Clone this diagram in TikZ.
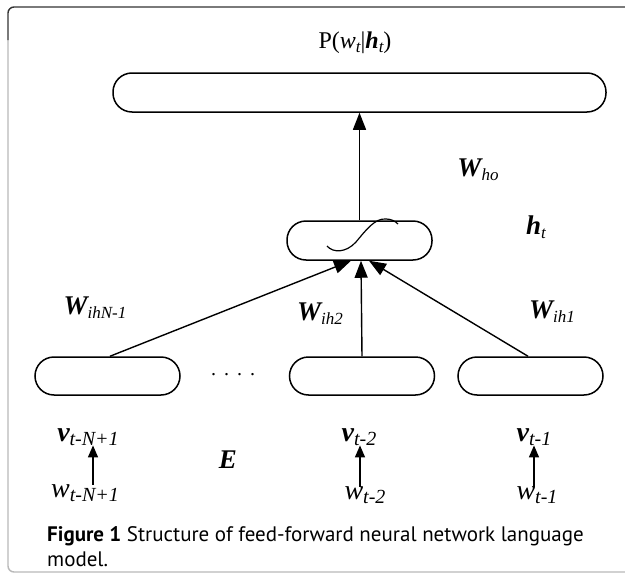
\documentclass[tikz,border=0pt]{standalone}
\usepackage{fontspec}
\setmainfont{Liberation Serif}
\newfontfamily\capfont{PT Sans}
\usetikzlibrary{arrows.meta}

% bold italic symbol with a lowered italic subscript
\newcommand{\symsub}[2]{{\bfseries\itshape #1}\raisebox{-0.14em}{\fontsize{17}{17}\selectfont\itshape #2}}
\newcommand{\plainsub}[2]{{\itshape #1}\raisebox{-0.14em}{\fontsize{17}{17}\selectfont\itshape #2}}
% larger variants for the input rows
\newcommand{\bigsymsub}[2]{{\bfseries\itshape #1}\raisebox{-0.12em}{\fontsize{20}{20}\selectfont\itshape #2}}
\newcommand{\bigplainsub}[2]{{\itshape #1}\raisebox{-0.12em}{\fontsize{20}{20}\selectfont\itshape #2}}

\tikzset{
  layer/.style={draw, line width=1.5pt, rounded corners=19pt, minimum height=39pt,
    minimum width=145pt, inner sep=0pt},
  lbl/.style={inner sep=0pt, font=\fontsize{27}{27}\selectfont},
  inlbl/.style={inner sep=0pt, font=\fontsize{28}{28}\selectfont},
  arr/.style={line width=1.4pt, -{Triangle[length=17pt,width=13pt]}},
  smallarr/.style={line width=1.4pt, -{Triangle[length=12pt,width=10pt]}},
  frameline/.style={line width=1.4pt}
}

\begin{document}
\begin{tikzpicture}[x=1pt, y=-1pt]
\useasboundingbox (0,0) rectangle (625,573);
\fill[white] (0,0) rectangle (625,573);

% panel frame (continues past the right and bottom edges)
\draw[frameline, draw=gray!55] (8,40) -- (8,566) arc[start angle=180, end angle=90, radius=6] -- (640,572);
\draw[frameline, draw=black!80] (8,40) -- (8,13) arc[start angle=180, end angle=270, radius=6] -- (640,7);

% layers
\node[layer, minimum width=493pt] (out) at (359.5,92.5) {};
\node[layer] (hid) at (359.5,240.5) {};
\node[layer, minimum height=38pt] (bN) at (107.5,376) {};
\node[layer, minimum height=38pt] (b2) at (362,376) {};
\node[layer, minimum height=38pt] (b1) at (530.5,376) {};
\node[inner sep=0pt, font=\fontsize{20}{20}\selectfont] (dots) at (233,375)
  {.\hspace{8pt}.\hspace{8pt}.\hspace{8pt}.};

% activation curve inside the hidden layer
\draw[line width=1.2pt] (327,246) .. controls (333,253) and (346,253) .. (356,242)
  .. controls (366,230) and (375,218) .. (386,219)
  .. controls (391,219) and (395,221) .. (398,224);

% connectors
\draw[arr] (hid.north) -- (out.south);
\draw[arr] (bN.north -| 110,0) -- (hid.south -| 351,0);
\draw[arr] (b2.north) -- (hid.south -| 361,0);
\draw[arr] (b1.north -| 528,0) -- (hid.south -| 369,0);

% labels
\node[lbl, font=\fontsize{24}{24}\selectfont] (title) at (355,43)
  {P(\plainsub{w}{t}|\symsub{h}{t})};
\node[lbl] (who) at (478,170) {\symsub{W}{ho}};
\node[lbl] (ht) at (536,227) {\symsub{h}{t}};
\node[lbl] (wihN) at (95,308) {\symsub{W}{ihN-1}};
\node[lbl] (wih2) at (320,314) {\symsub{W}{ih2}};
\node[lbl] (wih1) at (552,312) {\symsub{W}{ih1}};

\node[inlbl] (vN) at (88,437) {\bigsymsub{v}{t-N+1}};
\node[inlbl] (v2) at (359,437) {\bigsymsub{v}{t-2}};
\node[inlbl] (v1) at (534,437) {\bigsymsub{v}{t-1}};
\node[lbl] (E) at (228,460) {\bfseries\itshape E};
\node[inlbl] (wN) at (85,493) {\bigplainsub{w}{t-N+1}};
\node[inlbl] (w2) at (365,495) {\bigplainsub{w}{t-2}};
\node[inlbl] (w1) at (537,495) {\bigplainsub{w}{t-1}};

\draw[smallarr] (wN.north -| 93,0) -- (vN.south -| 93,0);
\draw[smallarr] (w2.north -| 360,0) -- (v2.south -| 360,0);
\draw[smallarr] (w1.north -| 534,0) -- (v1.south -| 534,0);

% caption
\node[anchor=base west, inner sep=0pt, font=\capfont\fontsize{21}{21}\selectfont] (cap1) at (47,541)
  {\textbf{Figure 1} Structure of feed-forward neural network language};
\node[anchor=base west, inner sep=0pt, font=\capfont\fontsize{21}{21}\selectfont] (cap2) at (47,566)
  {model.};
\end{tikzpicture}
\end{document}
